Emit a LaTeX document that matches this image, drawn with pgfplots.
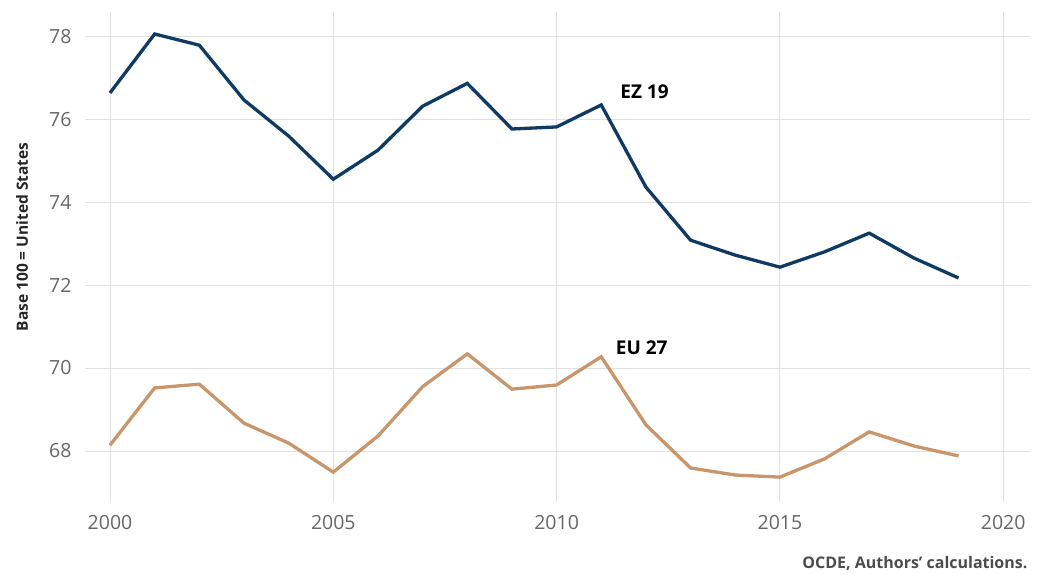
\documentclass[border=0pt]{standalone}
\usepackage{fontspec}
\setmainfont{Open Sans}
\usepackage{pgfplots}
\pgfplotsset{compat=1.18}

\definecolor{ezblue}{HTML}{0F3A64}
\definecolor{eutan}{HTML}{C9966B}
\definecolor{gridgray}{HTML}{E1E1E1}
\definecolor{ticktext}{HTML}{666666}

\begin{document}
\begin{tikzpicture}[x=1pt,y=1pt]
\useasboundingbox (0,0) rectangle (1045,574);
\begin{axis}[
  at={(85pt,72pt)}, anchor=south west,
  scale only axis,
  width=945pt, height=490pt,
  xmin=1999.44, xmax=2020.6,
  ymin=66.77, ymax=78.58,
  xtick={2000,2005,...,2020},
  ytick={68,70,...,78},
  axis line style={draw=none},
  major tick length=0pt,
  grid=major,
  major grid style={draw=gridgray, line width=0.9pt},
  /pgf/number format/assume math mode=true,
  /pgf/number format/1000 sep={},
  tick label style={font=\fontsize{19.5}{22}\selectfont, text=ticktext},
  xticklabel style={yshift=-10pt},
  yticklabel style={xshift=-10pt},
  clip=false,
]
\addplot[ezblue, line width=3.3pt] coordinates {
(2000,76.63) (2001,78.05) (2002,77.78) (2003,76.46) (2004,75.59) (2005,74.55)
(2006,75.25) (2007,76.31) (2008,76.86) (2009,75.76) (2010,75.81) (2011,76.34)
(2012,74.36) (2013,73.08) (2014,72.72) (2015,72.43) (2016,72.80) (2017,73.25)
(2018,72.65) (2019,72.17)};
\addplot[eutan, line width=3.3pt] coordinates {
(2000,68.14) (2001,69.52) (2002,69.61) (2003,68.67) (2004,68.19) (2005,67.49)
(2006,68.36) (2007,69.55) (2008,70.34) (2009,69.49) (2010,69.59) (2011,70.27)
(2012,68.63) (2013,67.59) (2014,67.42) (2015,67.37) (2016,67.81) (2017,68.46)
(2018,68.12) (2019,67.88)};
\node[anchor=west, font=\fontsize{19}{22}\selectfont\bfseries] at (axis cs:2011.35,76.65) {EZ 19};
\node[anchor=west, font=\fontsize{19}{22}\selectfont\bfseries] at (axis cs:2011.25,70.48) {EU 27};
\end{axis}
\node[rotate=90, font=\fontsize{15.5}{18}\selectfont\bfseries, text=black!85] at (22,337) {Base 100 = United States};
\node[anchor=east, font=\fontsize{16}{19}\selectfont\bfseries, text=black!70] at (1031,11) {OCDE, Authors’ calculations.};
\end{tikzpicture}
\end{document}
